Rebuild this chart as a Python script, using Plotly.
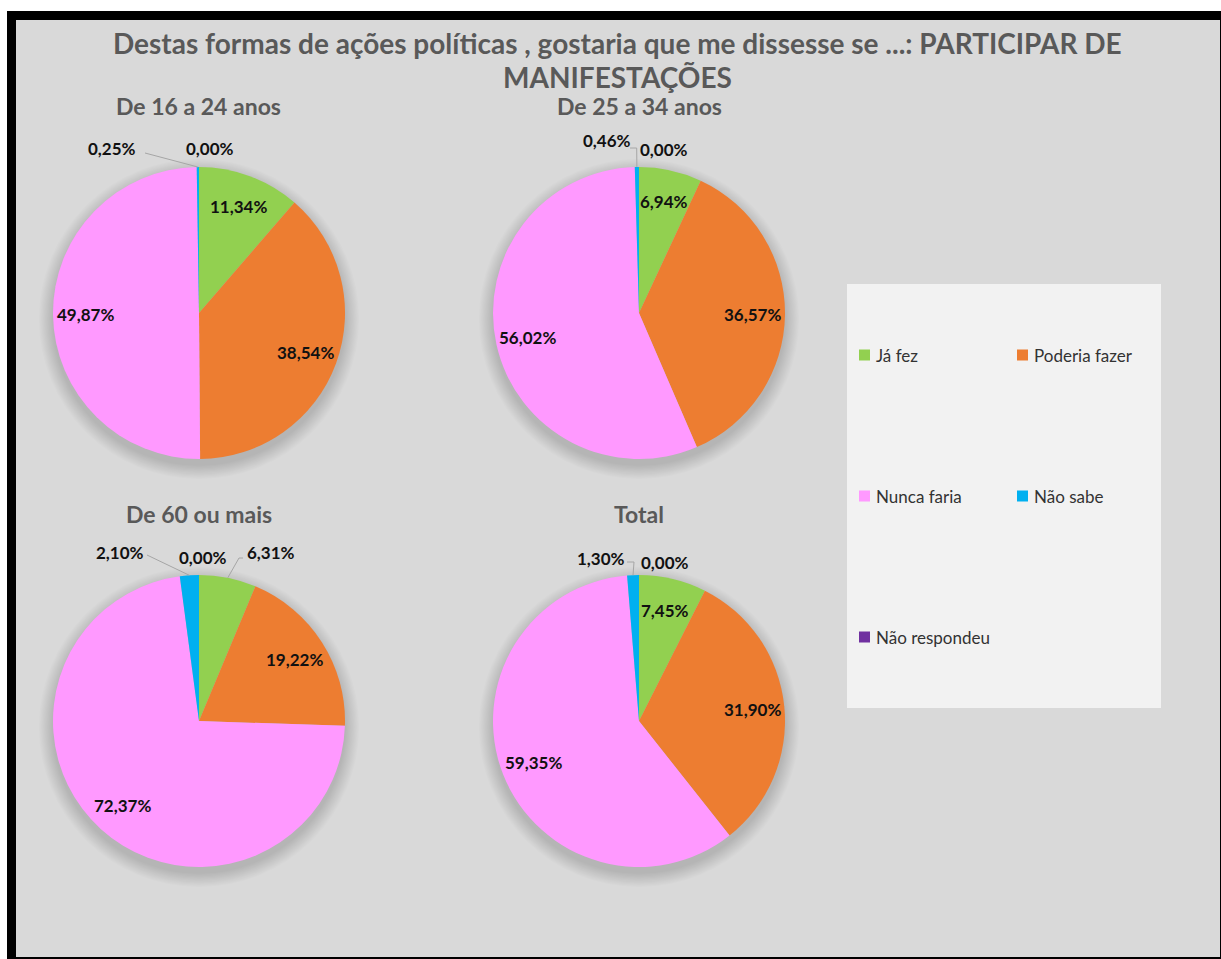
import math
import plotly.graph_objects as go

# ---------------- data ----------------
title_line1 = "Destas formas de ações políticas , gostaria que me dissesse se ...: PARTICIPAR DE"
title_line2 = "MANIFESTAÇÕES"
groups = ["De 16 a 24 anos", "De 25 a 34 anos", "De 60 ou mais", "Total"]
categories = ["Já fez", "Poderia fazer", "Nunca faria", "Não sabe", "Não respondeu"]
v_16_24 = [11.34, 38.54, 49.87, 0.25, 0.00]
v_25_34 = [6.94, 36.57, 56.02, 0.46, 0.00]
v_60_mais = [6.31, 19.22, 72.37, 2.10, 0.00]
v_total = [7.45, 31.90, 59.35, 1.30, 0.00]
series = [v_16_24, v_25_34, v_60_mais, v_total]

# ---------------- style / layout ----------------
colors = ["#92D050", "#ED7D31", "#FF99FF", "#00B0F0", "#7030A0"]
W, H = 1221, 959
R = 146
centers = [(199, 313), (639, 313), (199, 721), (639, 721)]  # px
FONT = "Lato"

# outside labels: offset from pie center in px (pie idx, slice idx)
outside_labels = {
    (0, 3): (-87, -165), (0, 4): (11, -165),
    (1, 3): (-32, -172), (1, 4): (25, -164),
    (2, 0): (72, -169), (2, 3): (-79, -169), (2, 4): (4, -164),
    (3, 3): (-38, -163), (3, 4): (26, -159),
}
# leader line points (offsets from center); final point is on the slice edge
leaders = {
    (0, 3): [(-54, -160)],
    (1, 3): [(-9, -165), (-2.3, -165)],
    (2, 0): [(44, -163), (40, -163)],
    (2, 3): [(-52, -166)],
    (3, 3): [(-12, -159), (-5, -159)],
}


def X(px):
    return px / W


def Y(py):
    return 1 - py / H


def fmt(v):
    return f"{v:.2f}".replace(".", ",") + "%"


fig = go.Figure()
shapes = []
annotations = []

# frame / background
shapes.append(dict(type="rect", xref="paper", yref="paper", x0=X(7), x1=X(1221), y0=Y(959), y1=Y(11),
                   fillcolor="#000000", line=dict(width=0), layer="below"))
shapes.append(dict(type="rect", xref="paper", yref="paper", x0=X(16), x1=X(1220), y0=Y(957), y1=Y(20),
                   fillcolor="#D9D9D9", line=dict(width=0), layer="below"))

for gi, (vals, (cx, cy)) in enumerate(zip(series, centers)):
    # soft shadow
    for k in range(12):
        rr = R + 1 + k * 1.2
        shapes.append(dict(type="circle", xref="paper", yref="paper",
                           x0=X(cx - rr), x1=X(cx + rr), y0=Y(cy + 6 + rr), y1=Y(cy + 6 - rr),
                           fillcolor="rgba(0,0,0,0.011)", line=dict(width=0), layer="below"))
    fig.add_trace(go.Pie(
        labels=categories, values=vals, sort=False, direction="clockwise", rotation=0,
        marker=dict(colors=colors, line=dict(width=0)),
        textinfo="none", hoverinfo="label+percent", showlegend=False,
        domain=dict(x=[X(cx - R), X(cx + R)], y=[Y(cy + R), Y(cy - R)]),
    ))
    total = sum(vals)
    cum = 0.0
    for si, v in enumerate(vals):
        mid = (cum + v / 2) / total * 2 * math.pi
        cum += v
        if (gi, si) in outside_labels:
            ox, oy = outside_labels[(gi, si)]
            lx, ly = cx + ox, cy + oy
            if (gi, si) in leaders:
                pts = [(cx + a, cy + b) for a, b in leaders[(gi, si)]]
                pts.append((cx + R * math.sin(mid), cy - R * math.cos(mid)))
                for (x0, y0), (x1, y1) in zip(pts[:-1], pts[1:]):
                    shapes.append(dict(type="line", xref="paper", yref="paper",
                                       x0=X(x0), y0=Y(y0), x1=X(x1), y1=Y(y1),
                                       line=dict(color="#A6A6A6", width=1)))
        else:
            lx = cx + 0.78 * R * math.sin(mid)
            ly = cy - 0.78 * R * math.cos(mid)
        annotations.append(dict(x=X(lx), y=Y(ly), xref="paper", yref="paper", text="<b>" + fmt(v) + "</b>",
                                showarrow=False, xanchor="center", yanchor="middle",
                                font=dict(family=FONT, size=17, color="#111111")))
    annotations.append(dict(x=X(cx), y=Y(106 if gi < 2 else 514), xref="paper", yref="paper",
                            text="<b>" + groups[gi] + "</b>", showarrow=False,
                            xanchor="center", yanchor="middle",
                            font=dict(family=FONT, size=23, color="#595959")))

# title
annotations.append(dict(x=X(617), y=Y(43), xref="paper", yref="paper", text="<b>" + title_line1 + "</b>",
                        showarrow=False, xanchor="center", yanchor="middle",
                        font=dict(family=FONT, size=28, color="#595959")))
annotations.append(dict(x=X(617), y=Y(77), xref="paper", yref="paper", text="<b>" + title_line2 + "</b>",
                        showarrow=False, xanchor="center", yanchor="middle",
                        font=dict(family=FONT, size=28, color="#595959")))

# legend box
shapes.append(dict(type="rect", xref="paper", yref="paper", x0=X(847), x1=X(1161), y0=Y(708), y1=Y(284),
                   fillcolor="#F2F2F2", line=dict(width=0), layer="below"))
leg_pos = [(859, 355), (1017, 355), (859, 496), (1017, 496), (859, 637)]
for cat, col, (lx, ly) in zip(categories, colors, leg_pos):
    shapes.append(dict(type="rect", xref="paper", yref="paper", x0=X(lx), x1=X(lx + 11),
                       y0=Y(ly + 5.5), y1=Y(ly - 5.5), fillcolor=col, line=dict(width=0)))
    annotations.append(dict(x=X(lx + 15), y=Y(ly), xref="paper", yref="paper", text=cat,
                            showarrow=False, xanchor="left", yanchor="middle",
                            font=dict(family=FONT, size=17, color="#333333")))

fig.update_layout(
    width=W, height=H, margin=dict(l=0, r=0, t=0, b=0),
    paper_bgcolor="#FFFFFF", plot_bgcolor="#FFFFFF",
    shapes=shapes, annotations=annotations, showlegend=False,
)
fig.write_html("out.html", config={"displayModeBar": False},
               post_script="document.body.style.margin='0';document.body.style.overflow='hidden';")
